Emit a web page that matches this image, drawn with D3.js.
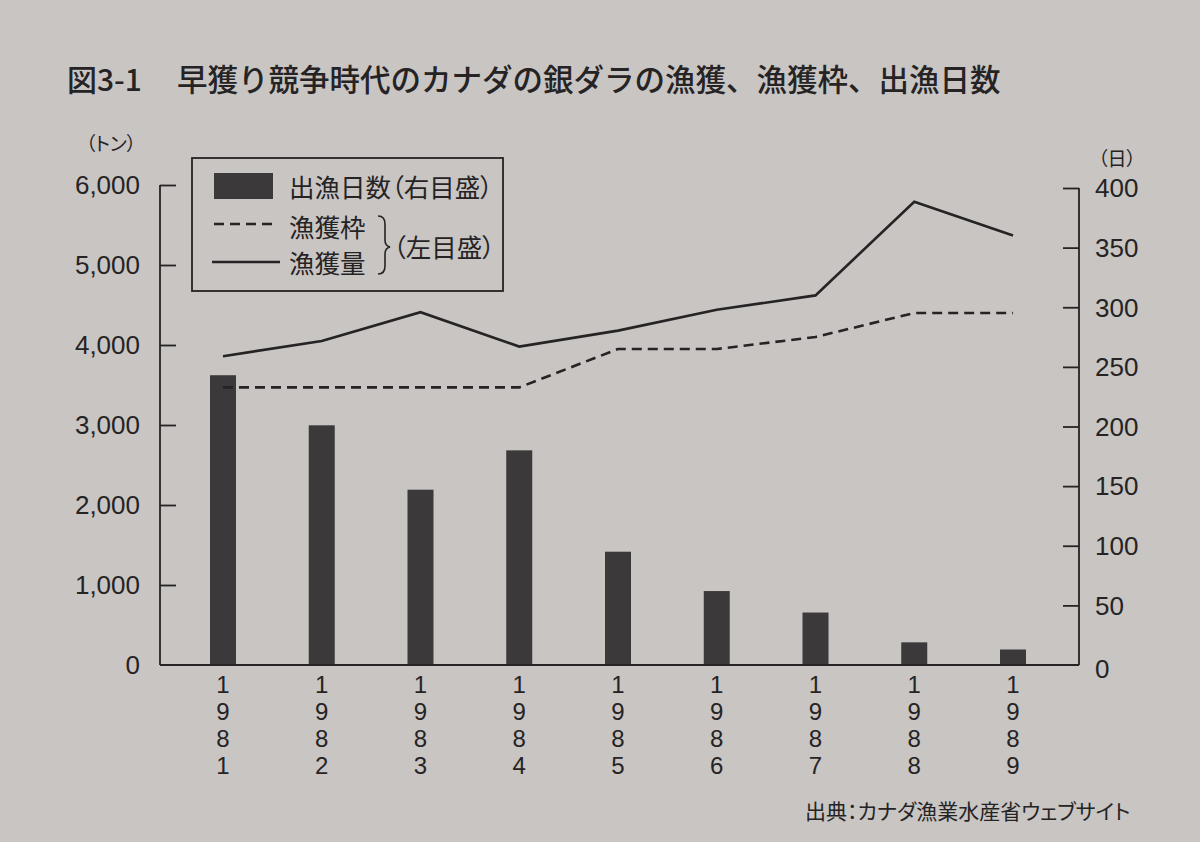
<!DOCTYPE html>
<html>
<head>
<meta charset="utf-8">
<script src="https://cdn.jsdelivr.net/npm/d3@7"></script>
<style>
  html, body { margin: 0; padding: 0; background: #c8c5c3; }
  svg { display: block; }
  text { fill: #252323; }
  .jp { font-family: "Noto Sans CJK JP", sans-serif; font-feature-settings: "palt"; }
  .num { font-family: "Liberation Sans", Arial, sans-serif; }
  .year { writing-mode: vertical-rl; text-orientation: upright; }
</style>
</head>
<body>
<div id="chart"></div>
<script>
// data
var years = ["1981", "1982", "1983", "1984", "1985", "1986", "1987", "1988", "1989"];
var fishingDays = [243, 201, 147, 180, 95, 62, 44, 19, 13];          // 出漁日数 (右目盛)
var quota = [3470, 3470, 3470, 3470, 3950, 3950, 4100, 4400, 4400];  // 漁獲枠 (左目盛)
var catchTons = [3860, 4050, 4410, 3980, 4180, 4440, 4620, 5790, 5370]; // 漁獲量 (左目盛)
var leftTicks = [0, 1000, 2000, 3000, 4000, 5000, 6000];
var rightTicks = [0, 50, 100, 150, 200, 250, 300, 350, 400];

var width = 1200, height = 842;
var margin = { left: 160, right: 121, top: 185, bottom: 177 };
var ink = "#252323";

var svg = d3.select("#chart").append("svg")
    .attr("width", width)
    .attr("height", height);

var x = d3.scalePoint()
    .domain(years)
    .range([223, 1013]);

var yLeft = d3.scaleLinear()
    .domain([0, 6000])
    .range([height - margin.bottom, margin.top]);

var yRight = d3.scaleLinear()
    .domain([0, 400])
    .range([height - margin.bottom, margin.top + 3]);

var x0 = margin.left, x1 = width - margin.right, yBase = height - margin.bottom;

// title
svg.append("text")
    .attr("class", "jp")
    .attr("x", 67)
    .attr("y", 91)
    .style("font-size", "30px")
    .style("font-weight", 500)
    .text("図3-1");
svg.append("text")
    .attr("x", 177)
    .attr("y", 91)
    .style("font-family", "'Noto Sans CJK JP', sans-serif")
    .style("font-size", "30.5px")
    .style("font-weight", 500)
    .text("早獲り競争時代のカナダの銀ダラの漁獲、漁獲枠、出漁日数");

// bars (right scale)
svg.append("g")
    .selectAll("rect")
    .data(years)
    .enter().append("rect")
    .attr("x", function (d) { return x(d) - 13; })
    .attr("width", 26)
    .attr("y", function (d, i) { return yRight(fishingDays[i]); })
    .attr("height", function (d, i) { return yBase - yRight(fishingDays[i]); })
    .attr("fill", "#3b3939");

// lines (left scale)
var line = d3.line()
    .x(function (d, i) { return x(years[i]); })
    .y(function (d) { return yLeft(d); });

svg.append("path")
    .datum(quota)
    .attr("d", line)
    .attr("fill", "none")
    .attr("stroke", ink)
    .attr("stroke-width", 2.6)
    .attr("stroke-dasharray", "10,6");

svg.append("path")
    .datum(catchTons)
    .attr("d", line)
    .attr("fill", "none")
    .attr("stroke", ink)
    .attr("stroke-width", 2.6)
    .attr("stroke-linejoin", "miter");

// axes: ticks point inwards, labels drawn separately below
var leftAxis = svg.append("g")
    .attr("transform", "translate(" + x0 + ",0)")
    .call(d3.axisRight(yLeft).tickValues(leftTicks).tickSize(16).tickFormat(""));
var rightAxis = svg.append("g")
    .attr("transform", "translate(" + x1 + ",0)")
    .call(d3.axisLeft(yRight).tickValues(rightTicks).tickSize(16).tickFormat(""));
leftAxis.select(".domain").attr("d", "M0," + yLeft(6000) + "V" + yBase);
rightAxis.select(".domain").attr("d", "M0," + yRight(400) + "V" + yBase);
[leftAxis, rightAxis].forEach(function (ax) {
    ax.selectAll("path").attr("stroke", ink).attr("stroke-width", 1.8);
    ax.selectAll("line").attr("stroke", ink).attr("stroke-width", 1.8);
    // the baseline covers the 0 ticks
    ax.selectAll(".tick").filter(function (d) { return d === 0; }).remove();
});

svg.append("line")
    .attr("x1", x0).attr("x2", x1)
    .attr("y1", yBase).attr("y2", yBase)
    .attr("stroke", ink)
    .attr("stroke-width", 2);

// tick labels
var fmt = d3.format(",");
svg.append("g")
    .selectAll("text")
    .data(leftTicks)
    .enter().append("text")
    .attr("class", "num")
    .attr("x", 140)
    .attr("y", function (d) { return yLeft(d); })
    .attr("dy", "0.36em")
    .attr("text-anchor", "end")
    .style("font-size", "26px")
    .text(function (d) { return fmt(d); });

svg.append("g")
    .selectAll("text")
    .data(rightTicks)
    .enter().append("text")
    .attr("class", "num")
    .attr("x", 1095)
    .attr("y", function (d) { return yRight(d) + (d === 0 ? 4 : 0); })
    .attr("dy", "0.36em")
    .style("font-size", "26px")
    .text(function (d) { return d; });

// unit labels
svg.append("text")
    .attr("class", "jp")
    .attr("x", 111)
    .attr("y", 151)
    .attr("text-anchor", "middle")
    .style("font-size", "19px")
    .text("（トン）");
svg.append("text")
    .attr("class", "jp")
    .attr("x", 1117)
    .attr("y", 166)
    .attr("text-anchor", "middle")
    .style("font-size", "19px")
    .text("（日）");

// year labels, digits stacked vertically
svg.append("g")
    .selectAll("text")
    .data(years)
    .enter().append("text")
    .attr("class", "num year")
    .attr("x", function (d) { return x(d); })
    .attr("y", 671)
    .style("font-size", "24px")
    .text(function (d) { return d; });

// legend
var legend = svg.append("g");
legend.append("rect")
    .attr("x", 192).attr("y", 158)
    .attr("width", 311).attr("height", 133)
    .attr("fill", "none")
    .attr("stroke", ink)
    .attr("stroke-width", 1.8);
legend.append("rect")
    .attr("x", 214).attr("y", 173)
    .attr("width", 59).attr("height", 26)
    .attr("fill", "#3b3939");
legend.append("line")
    .attr("x1", 214).attr("x2", 276)
    .attr("y1", 224).attr("y2", 224)
    .attr("stroke", ink).attr("stroke-width", 2.4)
    .attr("stroke-dasharray", "10,6");
legend.append("line")
    .attr("x1", 212).attr("x2", 280)
    .attr("y1", 262).attr("y2", 262)
    .attr("stroke", ink).attr("stroke-width", 2.4);
legend.append("text")
    .attr("class", "jp")
    .attr("x", 289).attr("y", 197)
    .style("font-size", "25.5px")
    .text("出漁日数（右目盛）");
legend.append("text")
    .attr("class", "jp")
    .attr("x", 289).attr("y", 237)
    .style("font-size", "25.5px")
    .text("漁獲枠");
legend.append("text")
    .attr("class", "jp")
    .attr("x", 289).attr("y", 273)
    .style("font-size", "25.5px")
    .text("漁獲量");
legend.append("path")
    .attr("d", "M378,216 Q385,216 385,224 L385,240 Q385,246 390,247 Q385,248 385,254 L385,266 Q385,274 378,274")
    .attr("fill", "none")
    .attr("stroke", ink)
    .attr("stroke-width", 1.6);
legend.append("text")
    .attr("class", "jp")
    .attr("x", 393).attr("y", 257)
    .style("font-size", "25.5px")
    .text("（左目盛）");

// source
svg.append("text")
    .attr("class", "jp")
    .attr("x", 805)
    .attr("y", 819)
    .style("font-size", "21px")
    .text("出典：カナダ漁業水産省ウェブサイト");
</script>
</body>
</html>
